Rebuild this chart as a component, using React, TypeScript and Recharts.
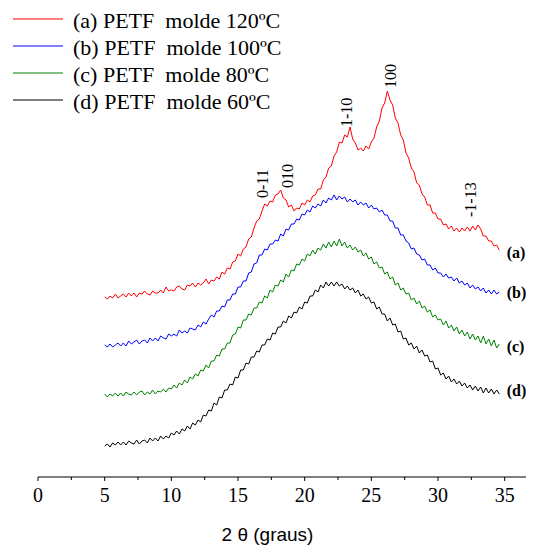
import React from 'react';
import { LineChart, Line, XAxis, YAxis, Legend, ReferenceDot } from 'recharts';

// 2θ positions (degrees)
const twoTheta = [
  5.0, 5.2, 5.4, 5.6, 5.8, 6.0, 6.2, 6.4, 6.6, 6.8,
  7.0, 7.2, 7.4, 7.6, 7.8, 8.0, 8.2, 8.4, 8.6, 8.8,
  9.0, 9.2, 9.4, 9.6, 9.8, 10.0, 10.2, 10.4, 10.6, 10.8,
  11.0, 11.2, 11.4, 11.6, 11.8, 12.0, 12.2, 12.4, 12.6, 12.8,
  13.0, 13.2, 13.4, 13.6, 13.8, 14.0, 14.2, 14.4, 14.6, 14.8,
  15.0, 15.2, 15.4, 15.6, 15.8, 16.0, 16.2, 16.4, 16.6, 16.8,
  17.0, 17.2, 17.4, 17.6, 17.8, 18.0, 18.2, 18.4, 18.6, 18.8,
  19.0, 19.2, 19.4, 19.6, 19.8, 20.0, 20.2, 20.4, 20.6, 20.8,
  21.0, 21.2, 21.4, 21.6, 21.8, 22.0, 22.2, 22.4, 22.6, 22.8,
  23.0, 23.2, 23.4, 23.6, 23.8, 24.0, 24.2, 24.4, 24.6, 24.8,
  25.0, 25.2, 25.4, 25.6, 25.8, 26.0, 26.2, 26.4, 26.6, 26.8,
  27.0, 27.2, 27.4, 27.6, 27.8, 28.0, 28.2, 28.4, 28.6, 28.8,
  29.0, 29.2, 29.4, 29.6, 29.8, 30.0, 30.2, 30.4, 30.6, 30.8,
  31.0, 31.2, 31.4, 31.6, 31.8, 32.0, 32.2, 32.4, 32.6, 32.8,
  33.0, 33.2, 33.4, 33.6, 33.8, 34.0, 34.2, 34.4, 34.6,
];

// intensities (a.u., curves offset as in the figure)
const molde120 = [
  180, 178, 181, 179, 183, 179, 181, 183, 180, 184,
  181, 184, 180, 184, 183, 186, 183, 182, 186, 184,
  184, 187, 184, 190, 186, 187, 186, 190, 191, 188,
  187, 192, 191, 194, 190, 194, 192, 194, 198, 193,
  197, 196, 200, 198, 205, 203, 209, 208, 215, 216,
  223, 221, 228, 230, 238, 240, 249, 256, 258, 266,
  273, 271, 276, 275, 282, 283, 287, 279, 277, 270,
  272, 266, 269, 268, 274, 272, 277, 275, 281, 282,
  288, 288, 297, 300, 309, 311, 321, 325, 335, 334,
  342, 340, 350, 338, 334, 327, 329, 326, 331, 328,
  335, 339, 350, 356, 369, 374, 386, 377, 372, 359,
  354, 342, 337, 324, 319, 309, 305, 294, 292, 283,
  280, 272, 272, 264, 264, 258, 258, 252, 253, 248,
  251, 246, 249, 245, 249, 246, 250, 246, 251, 247,
  252, 248, 241, 241, 236, 236, 231, 232, 227,
];
const molde100 = [
  132, 130, 133, 130, 132, 134, 131, 134, 131, 136,
  133, 135, 137, 133, 136, 137, 134, 139, 136, 139,
  136, 141, 139, 138, 143, 141, 143, 141, 147, 144,
  146, 144, 149, 148, 147, 152, 150, 155, 153, 158,
  162, 160, 166, 166, 171, 170, 177, 177, 183, 183,
  190, 190, 196, 196, 204, 205, 213, 214, 222, 222,
  228, 227, 233, 233, 237, 236, 243, 241, 248, 247,
  253, 253, 258, 257, 263, 262, 267, 265, 271, 269,
  273, 271, 277, 274, 279, 277, 282, 277, 281, 278,
  280, 275, 278, 275, 277, 272, 275, 272, 274, 269,
  272, 268, 269, 265, 267, 262, 262, 256, 256, 249,
  249, 242, 242, 236, 234, 228, 229, 223, 222, 217,
  218, 212, 212, 207, 209, 204, 204, 200, 203, 199,
  200, 196, 199, 194, 196, 192, 194, 189, 192, 188,
  190, 186, 189, 184, 187, 183, 187, 183, 185,
];
const molde80 = [
  83, 80, 83, 81, 84, 81, 84, 81, 85, 83,
  82, 85, 82, 85, 86, 82, 85, 83, 87, 83,
  86, 85, 88, 85, 89, 88, 92, 89, 94, 92,
  97, 94, 100, 98, 103, 101, 107, 106, 112, 109,
  116, 116, 122, 121, 128, 128, 134, 134, 142, 143,
  150, 149, 157, 157, 163, 162, 169, 169, 175, 174,
  181, 179, 187, 185, 192, 191, 197, 195, 203, 200,
  207, 206, 213, 212, 218, 216, 223, 221, 227, 223,
  229, 227, 233, 229, 235, 230, 236, 231, 238, 231,
  235, 229, 232, 227, 230, 225, 227, 221, 224, 218,
  220, 213, 215, 209, 210, 203, 205, 198, 200, 192,
  194, 187, 189, 183, 184, 177, 179, 173, 176, 169,
  171, 165, 167, 160, 162, 157, 158, 152, 156, 149,
  152, 146, 150, 143, 147, 141, 145, 138, 143, 137,
  141, 134, 141, 133, 138, 131, 137, 129, 133,
];
const molde60 = [
  31, 33, 30, 34, 32, 35, 32, 35, 32, 36,
  34, 33, 37, 33, 36, 37, 34, 39, 36, 39,
  36, 41, 38, 41, 39, 44, 42, 46, 43, 48,
  46, 51, 48, 54, 52, 57, 55, 62, 61, 67,
  66, 74, 72, 80, 79, 87, 87, 93, 92, 100,
  99, 107, 107, 114, 113, 120, 120, 126, 125, 132,
  132, 138, 137, 144, 143, 150, 150, 156, 154, 161,
  159, 165, 164, 170, 168, 175, 174, 181, 181, 187,
  185, 192, 189, 195, 191, 195, 191, 195, 191, 193,
  188, 191, 187, 189, 184, 187, 181, 183, 178, 180,
  174, 175, 168, 170, 163, 163, 156, 159, 152, 153,
  145, 146, 138, 139, 132, 134, 128, 131, 124, 127,
  121, 122, 115, 116, 108, 109, 102, 104, 98, 101,
  95, 98, 93, 96, 91, 94, 89, 92, 87, 91,
  86, 90, 84, 89, 84, 88, 83, 87, 83,
];

const seriesKeys = ['a', 'b', 'c', 'd'];
const seriesNames = [
  '(a) PETF  molde 120ºC',
  '(b) PETF  molde 100ºC',
  '(c) PETF  molde 80ºC',
  '(d) PETF  molde 60ºC',
];
const seriesColors = ['#ff0000', '#0000ff', '#008000', '#000000'];

const xTicks = [0, 2.5, 5, 7.5, 10, 12.5, 15, 17.5, 20, 22.5, 25, 27.5, 30, 32.5, 35];

// reflection labels (hkl) above the peaks
const peakNames = ['0-11', '010', '1-10', '100', '-1-13'];
const peakTheta = [16.83, 18.68, 23.14, 26.43, 32.43];
const peakLabelBase = [279, 289, 350, 389, 260];

// curve tags on the right
const curveTags = ['(a)', '(b)', '(c)', '(d)'];
const curveTagY = [225, 185, 131, 87];

const serif = '"Liberation Serif", "Times New Roman", serif';
const sans = '"Liberation Sans", Arial, sans-serif';

const data = twoTheta.map((t, i) => ({
  theta: t,
  a: molde120[i],
  b: molde100[i],
  c: molde80[i],
  d: molde60[i],
}));

const AxisTick = (props: any) => {
  const { x, y, payload } = props;
  const major = payload.value % 5 === 0;
  return (
    <g>
      <line x1={x} x2={x} y1={y} y2={y + (major ? 4 : 3)} stroke="#000" />
      {major && (
        <text x={x} y={y + 25} textAnchor="middle" fontFamily={serif} fontSize={20} fill="#000">
          {payload.value}
        </text>
      )}
    </g>
  );
};

const RotatedLabel = ({ viewBox, text }: any) => {
  const x = viewBox.x + viewBox.width / 2;
  const y = viewBox.y + viewBox.height / 2;
  return (
    <text
      transform={`translate(${x},${y}) rotate(-90)`}
      textAnchor="start"
      dominantBaseline="central"
      fontFamily={serif}
      fontSize={16}
      fill="#000"
    >
      {text}
    </text>
  );
};

const TagLabel = ({ viewBox, text }: any) => (
  <text
    x={viewBox.x}
    y={viewBox.y}
    dominantBaseline="central"
    fontFamily={serif}
    fontWeight="bold"
    fontSize={16}
    fill="#000"
  >
    {text}
  </text>
);

const LegendBox = ({ payload }: any) => (
  <svg width={300} height={110}>
    {(payload || []).map((p: any, i: number) => (
      <g key={p.value}>
        <line x1={5} x2={55} y1={11 + 27 * i} y2={11 + 27 * i} stroke={p.color} strokeWidth={1.2} />
        <text x={65} y={20 + 27 * i} fontFamily={serif} fontSize={22} fill="#000" style={{ whiteSpace: 'pre' }}>
          {p.value}
        </text>
      </g>
    ))}
  </svg>
);

export default function App() {
  return (
    <>
      <style>{'html, body { overflow: hidden; }'}</style>
      <LineChart width={540} height={538} data={data} margin={{ top: 0, right: 14, bottom: 0, left: 30 }}>
        <XAxis
          dataKey="theta"
          type="number"
          domain={[0, 37.2]}
          ticks={xTicks}
          interval={0}
          height={69}
          tickSize={0}
          tickMargin={0}
          tickLine={false}
          axisLine={{ stroke: '#000' }}
          tick={<AxisTick />}
          label={{
            content: () => (
              <text x={259.5} y={533} textAnchor="middle" fontFamily={sans} fontSize={19} fill="#000">
                2 θ (graus)
              </text>
            ),
          }}
        />
        <YAxis type="number" domain={[0, 469]} hide />
        <Legend
          verticalAlign="middle"
          align="center"
          content={<LegendBox />}
          wrapperStyle={{ top: 0, left: 0, width: 300, height: 110 }}
        />
        {seriesKeys.map((k, i) => (
          <Line
            key={k}
            dataKey={k}
            name={seriesNames[i]}
            type="linear"
            stroke={seriesColors[i]}
            strokeWidth={1}
            dot={false}
            activeDot={false}
            isAnimationActive={false}
          />
        ))}
        {peakNames.map((name, i) => (
          <ReferenceDot
            key={name}
            x={peakTheta[i]}
            y={peakLabelBase[i]}
            r={0}
            fill="none"
            stroke="none"
            label={<RotatedLabel text={name} />}
          />
        ))}
        {curveTags.map((tag, i) => (
          <ReferenceDot
            key={tag}
            x={35.15}
            y={curveTagY[i]}
            r={0}
            fill="none"
            stroke="none"
            label={<TagLabel text={tag} />}
          />
        ))}
      </LineChart>
    </>
  );
}
